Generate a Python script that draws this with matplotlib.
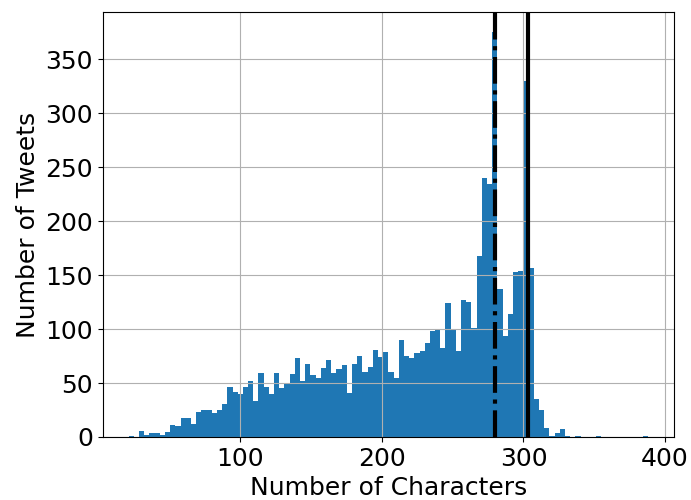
import numpy as np
import matplotlib
matplotlib.use("Agg")
import matplotlib.pyplot as plt

# tweet length histogram, 100 bins between min and max length
first_edge = 21
last_edge = 388
counts = [1, 0, 6, 2, 4, 4, 2, 5, 11, 10,
          18, 18, 12, 23, 25, 25, 22, 25, 31, 46,
          42, 40, 46, 52, 33, 59, 46, 40, 59, 45,
          50, 58, 73, 52, 68, 57, 55, 64, 71, 59,
          63, 67, 41, 68, 75, 60, 65, 81, 74, 79,
          60, 55, 90, 75, 73, 78, 80, 87, 98, 100,
          82, 124, 99, 80, 127, 125, 101, 168, 240, 234,
          375, 137, 94, 114, 153, 154, 330, 157, 35, 25,
          8, 1, 4, 7, 1, 0, 1, 0, 0, 0,
          1, 0, 0, 0, 0, 0, 0, 0, 0, 1]
tweet_limit = 280
mean_line = 303


def main():
    edges = np.linspace(first_edge, last_edge, len(counts) + 1)
    centers = (edges[:-1] + edges[1:]) / 2

    plt.rcParams['font.size'] = 18
    fig = plt.figure(figsize=(6.91, 5), dpi=100)
    fig.subplots_adjust(left=0.1486, right=0.9754, top=0.976, bottom=0.126)

    plt.hist(centers, bins=edges, weights=counts, color='#1f77b4')
    plt.axvline(tweet_limit, color='k', linestyle='-.', linewidth=3)
    plt.axvline(mean_line, color='k', linestyle='-', linewidth=3)
    plt.grid()
    plt.xlabel('Number of Characters')
    plt.ylabel('Number of Tweets')
    plt.yticks(range(0, 351, 50))
    plt.savefig('out.png')


if __name__ == "__main__":
    main()
